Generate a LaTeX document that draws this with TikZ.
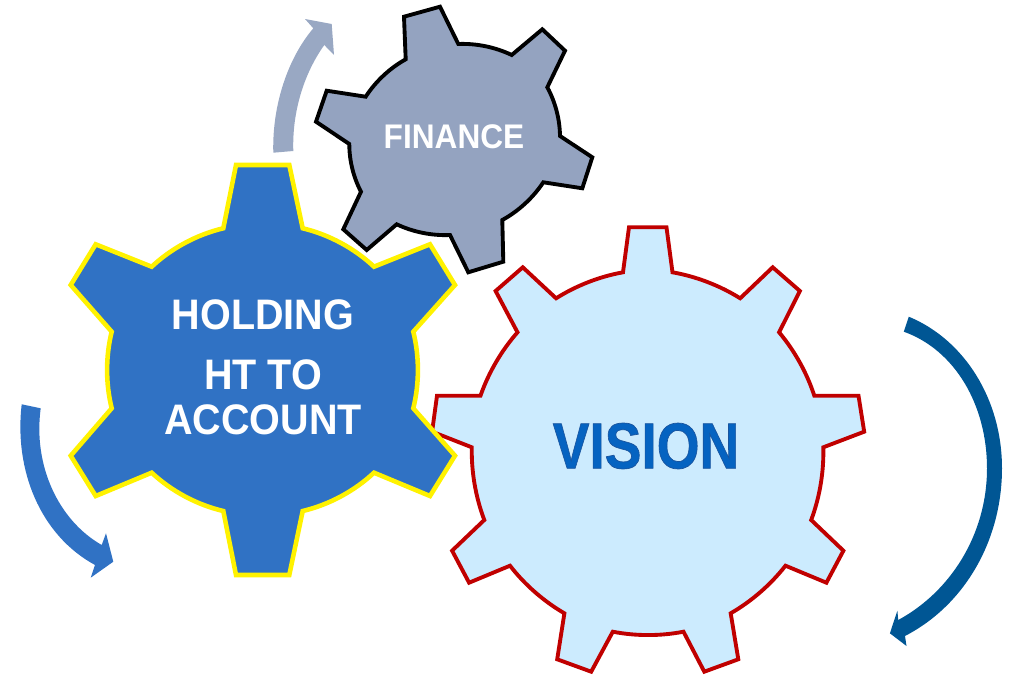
\documentclass[tikz,border=0pt]{standalone}
\usepackage{fontspec}
\setmainfont{Liberation Sans}
\usepackage{tikz}
\definecolor{financefill}{HTML}{94A3C0}
\definecolor{holdingfill}{HTML}{3072C4}
\definecolor{visionfill}{HTML}{CCEBFE}
\definecolor{visionred}{HTML}{C00000}
\definecolor{visiontext}{HTML}{0563C1}
\definecolor{darkarrow}{HTML}{005694}
\tikzset{
	financegear/.style={draw=black, fill=financefill, line width=2.2pt, looseness=0.85},
	holdinggear/.style={draw=yellow, fill=holdingfill, line width=2.6pt, looseness=0.85},
	visiongear/.style={draw=visionred, fill=visionfill, line width=2.2pt, looseness=0.85},
	gearlabel/.style={text=white, align=center, inner sep=0pt, yscale=1.08, transform shape}
}

\begin{document}
\begin{tikzpicture}[x=0.02cm, y=-0.02cm]
\useasboundingbox (0,0) rectangle (1012,676);

% turning arrows
\fill[financefill!95!white] (273.3,152.7) .. controls (272,105) and (288,58) .. (313.3,28.3)
 -- (305,19) -- (331.7,24) -- (334,55) -- (324.3,45)
 .. controls (305,72) and (292,110) .. (293.3,151) -- cycle;
\fill[holdingfill] (21.7,404.3) .. controls (14,470) and (40,535) .. (95,565)
 -- (90.7,577.7) -- (113.3,561.7) -- (106,533.3) -- (101.7,545)
 .. controls (58,520) and (33,465) .. (40.7,408.3) -- cycle;
\fill[darkarrow] (908.8,316.7) .. controls (965,340) and (1002,400) .. (1002,468.3)
 .. controls (1002,540) and (965,605) .. (905,636)
 -- (906.5,646) -- (889.9,633.3) -- (897.4,610.7) -- (898.2,620)
 .. controls (950,592) and (987,535) .. (987,468.3)
 .. controls (987,405) and (955,350) .. (903.8,331.7) -- cycle;

% gears
\draw[visiongear] (629,227.3) -- (666.5,227.3) -- (672.5,272.3)
 to[bend left=11] (740.2,298.3) -- (772.7,267.3) -- (799.9,291) -- (779.1,332.3)
 to[bend left=11] (814.3,395.7) -- (858.5,395.7) -- (864.2,431.7) -- (823.3,447.3)
 to[bend left=11] (811.2,520) -- (843.4,550.7) -- (826.4,582.7) -- (785.5,565.7)
 to[bend left=11] (730.7,613.3) -- (738.3,659.3) -- (704.3,671.7) -- (683.5,631.7)
 to[bend left=11] (612.8,631.7) -- (591.2,671.7) -- (557.2,659.3) -- (564.4,613.3)
 to[bend left=11] (510,565.7) -- (469.1,582.7) -- (452.1,550.7) -- (484.3,520)
 to[bend left=11] (471.8,447.3) -- (432.1,431.7) -- (437,395.7) -- (480.5,395.7)
 to[bend left=11] (517.5,332.3) -- (495.6,291) -- (522.8,267.3) -- (556.1,298.3)
 to[bend left=11] (623,272.3) -- cycle;

\draw[holdinggear] (236,165) -- (289.3,165) -- (302.7,228.3)
 to[bend left=15] (374,266.7) -- (430,244.3) -- (455,285) -- (413.3,331.7)
 to[bend left=14] (413.3,408.3) -- (455,455.7) -- (430,496) -- (374,472.7)
 to[bend left=15] (302.7,511) -- (289.3,575) -- (236,575) -- (223.3,511)
 to[bend left=15] (151.7,472.7) -- (95.7,496) -- (70.7,455.7) -- (111.7,408.3)
 to[bend left=14] (111.7,331.7) -- (70.7,285) -- (95.7,244.3) -- (151.7,266.7)
 to[bend left=15] (223.3,228.3) -- cycle;

\draw[financegear] (404,16.7) -- (440,6.7) -- (458.3,44)
 to[bend left=14] (511.7,55) -- (542.3,29.3) -- (565,50.7) -- (547.3,87.3)
 to[bend left=14] (560,136) -- (592.3,157.3) -- (582.3,188.3) -- (543.3,182.3)
 to[bend left=14] (502.3,220) -- (503.3,261.7) -- (468.3,272.3) -- (450,235)
 to[bend left=14] (396.7,224.3) -- (366.7,250) -- (343.3,229.3) -- (361,191.7)
 to[bend left=14] (349.3,144) -- (316,121.7) -- (326.7,90.7) -- (365.7,96.7)
 to[bend left=14] (405.7,59.3) -- cycle;

% labels
\node[gearlabel, font=\fontsize{18}{20}\selectfont\bfseries] (finance) at (454,137) {FINANCE};
\node[gearlabel, font=\fontsize{22.5}{23.7}\selectfont\bfseries] (holding) at (263,367) {HOLDING\\[8pt]HT TO\\ACCOUNT};
\node[gearlabel, text=visiontext, font=\fontsize{36}{40}\selectfont\bfseries, xscale=0.87, yscale=0.95] (vision) at (646,446)
	{\special{pdf:code 2 Tr 0.4 w 0.1 0.33 0.62 RG}VISION\special{pdf:code 0 Tr}};
\end{tikzpicture}
\end{document}
